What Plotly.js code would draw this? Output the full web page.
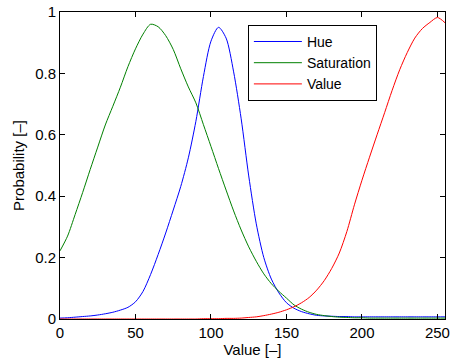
<!DOCTYPE html>
<html>
<head>
<meta charset="utf-8">
<script src="https://cdn.plot.ly/plotly-3.0.1.min.js"></script>
<style>html,body{margin:0;padding:0;background:#fff;}#chart{width:451px;height:363px;}</style>
</head>
<body>
<div id="chart"></div>
<script>
const bins = [0,5,10,15,20,25,30,35,40,45,50,55,60,65,70,75,80,85,90,95,100,105,110,115,120,125,130,135,140,145,150,155,160,165,170,175,180,185,190,195,200,205,210,215,220,225,230,235,240,245,250,255];
const hue = [0.003,0.004,0.006,0.008,0.010,0.013,0.017,0.022,0.029,0.038,0.056,0.090,0.145,0.210,0.280,0.355,0.432,0.525,0.644,0.790,0.905,0.950,0.915,0.805,0.652,0.466,0.310,0.200,0.130,0.085,0.053,0.035,0.024,0.017,0.012,0.010,0.009,0.008,0.008,0.007,0.007,0.007,0.007,0.007,0.007,0.007,0.007,0.007,0.007,0.007,0.007,0.007];
const saturation = [0.222,0.270,0.340,0.412,0.487,0.560,0.632,0.693,0.755,0.822,0.880,0.928,0.960,0.952,0.923,0.878,0.815,0.756,0.704,0.633,0.562,0.490,0.420,0.352,0.290,0.235,0.188,0.147,0.115,0.090,0.068,0.046,0.032,0.022,0.015,0.011,0.008,0.006,0.005,0.004,0.004,0.003,0.003,0.003,0.003,0.003,0.003,0.003,0.003,0.003,0.003,0.003];
const value = [0,0,0,0,0,0,0,0,0,0,0,0,0,0,0,0,0,0,0,0.001,0.001,0.001,0.002,0.002,0.003,0.005,0.007,0.011,0.016,0.022,0.030,0.040,0.053,0.070,0.094,0.125,0.165,0.215,0.285,0.372,0.452,0.527,0.600,0.672,0.745,0.812,0.868,0.915,0.946,0.966,0.982,0.965];
const seriesNames = ["Hue","Saturation","Value"];
const seriesColors = ["#0000ff","#008000","#ff0000"];
const xTicks = [0,50,100,150,200,250];
const yTicks = [0,0.2,0.4,0.6,0.8,1];
const yTickText = ["0","0.2","0.4","0.6","0.8","1"];

const data = [hue, saturation, value].map((ys, i) => ({
  x: bins, y: ys, type: "scatter", mode: "lines", name: seriesNames[i],
  line: {color: seriesColors[i], width: 1, shape: "spline", smoothing: 0.8}
}));

const axisCommon = {
  showgrid: false, zeroline: false, showline: true, linecolor: "#000", linewidth: 1,
  mirror: "ticks", ticks: "inside", ticklen: 5, tickcolor: "#000", tickwidth: 1,
  tickfont: {family: "Liberation Sans, Arial, sans-serif", size: 15, color: "#000"}
};

const layout = {
  width: 451, height: 363,
  margin: {l: 60, r: 6, t: 12, b: 44},
  paper_bgcolor: "#fff", plot_bgcolor: "#fff",
  font: {family: "Liberation Sans, Arial, sans-serif", size: 15, color: "#000"},
  showlegend: true,
  legend: {
    x: 0.488, y: 0.958, xanchor: "left", yanchor: "top",
    bordercolor: "#000", borderwidth: 1, bgcolor: "#fff",
    font: {size: 14, color: "#000"}, tracegroupgap: 0, itemwidth: 48
  },
  xaxis: Object.assign({}, axisCommon, {
    range: [0, 255], tickvals: xTicks, ticktext: xTicks.map(String),
    title: {text: "Value [–]", standoff: 0, font: {size: 15}}
  }),
  yaxis: Object.assign({}, axisCommon, {
    range: [0, 1], tickvals: yTicks, ticktext: yTickText,
    title: {text: "Probability [–]", standoff: 6, font: {size: 15}}
  })
};

Plotly.newPlot("chart", data, layout, {displayModeBar: false, staticPlot: true});
</script>
</body>
</html>
